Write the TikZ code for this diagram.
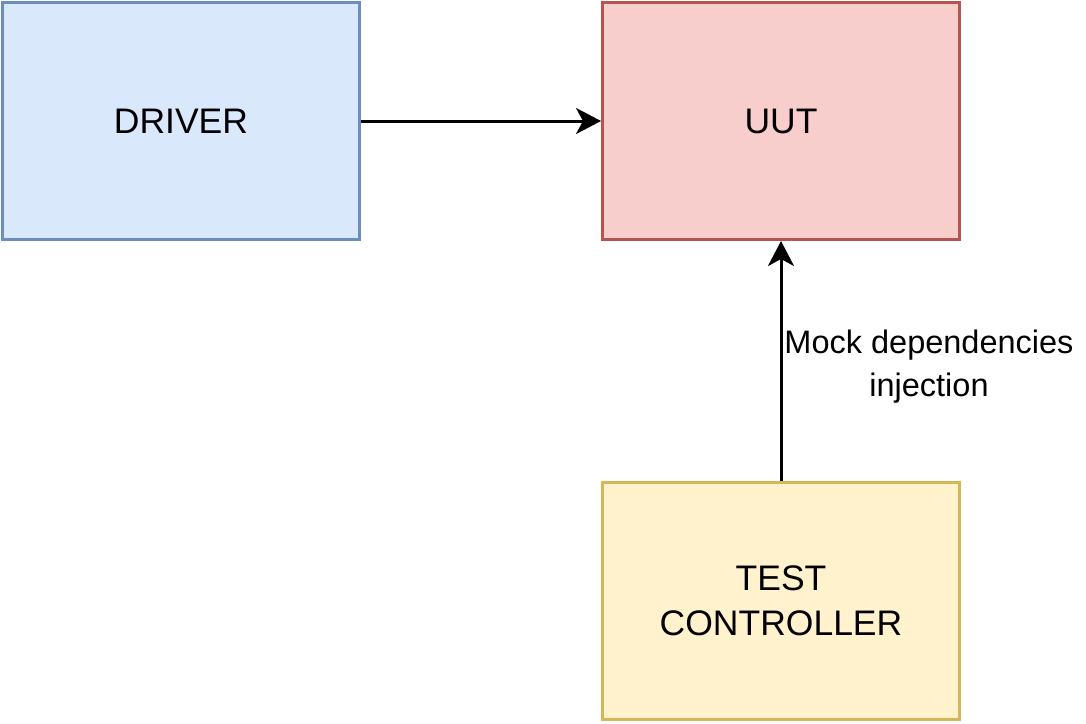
\documentclass[tikz,border=0pt]{standalone}
\usepackage{fontspec}
\setmainfont{Liberation Sans}
\usetikzlibrary{arrows.meta}
\definecolor{bfill}{HTML}{DAE8FC}\definecolor{bline}{HTML}{6C8EBF}
\definecolor{rfill}{HTML}{F8CECC}\definecolor{rline}{HTML}{B85450}
\definecolor{yfill}{HTML}{FFF2CC}\definecolor{yline}{HTML}{D6B656}
\tikzset{
  box/.style={draw, line width=3pt, minimum width=357pt, minimum height=237pt, inner sep=0pt,
    align=center, font=\fontsize{35.5}{45}\selectfont},
  conn/.style={line width=3pt, -{Stealth[length=25pt, width=26pt, inset=7pt]}},
  lbl/.style={align=center, font=\fontsize{32.5}{43}\selectfont, inner sep=0pt}
}
\begin{document}
\begin{tikzpicture}[x=1pt,y=1pt]
\useasboundingbox (0,0) rectangle (1086,-723);
\node[box, fill=bfill, draw=bline] (driver) at (181,-121) {DRIVER};
\node[box, fill=rfill, draw=rline] (uut) at (781,-121) {UUT};
\node[box, fill=yfill, draw=yline] (tc) at (781,-601) {TEST\\CONTROLLER};
\draw[conn] (driver.east) -- (uut.west);
\draw[conn] (tc.north) -- (uut.south);
\node[lbl] (mock) at (929,-367) {Mock dependencies\\injection};
\end{tikzpicture}
\end{document}
